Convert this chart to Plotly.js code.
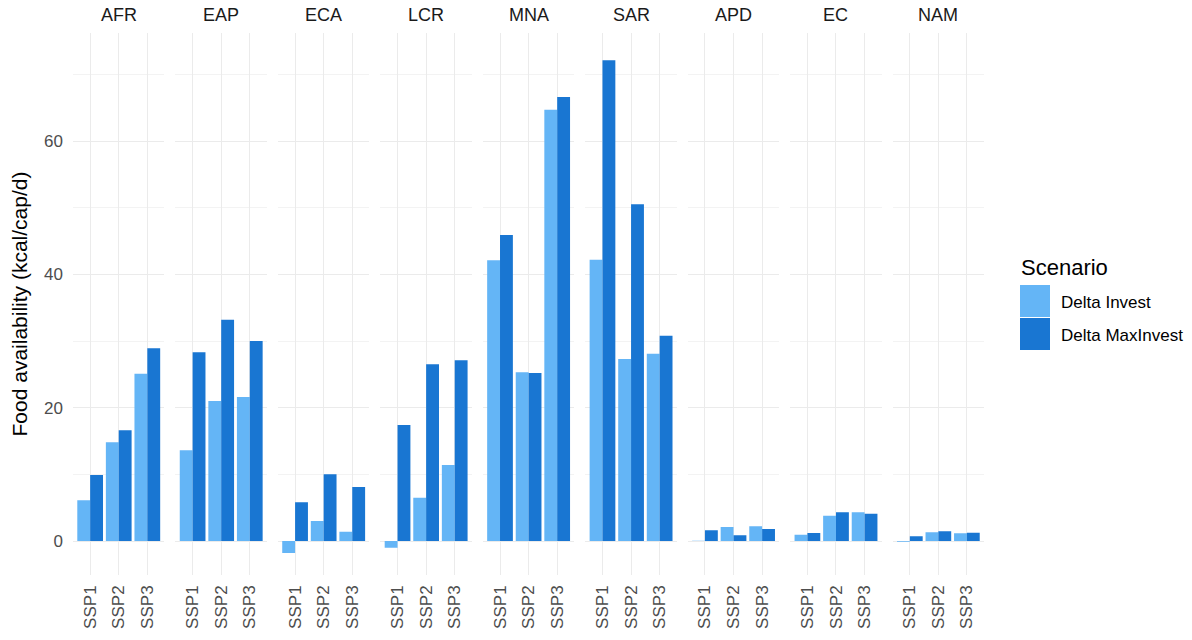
<!DOCTYPE html>
<html>
<head>
<meta charset="utf-8">
<script src="https://cdn.plot.ly/plotly-3.0.1.min.js"></script>
<style>html,body{margin:0;padding:0;background:#fff}#chart{width:1192px;height:640px}</style>
</head>
<body>
<div id="chart"></div>
<script>
const regions = ["AFR","EAP","ECA","LCR","MNA","SAR","APD","EC","NAM"];
const ssps = ["SSP1","SSP2","SSP3"];
const seriesNames = ["Delta Invest","Delta MaxInvest"];
const seriesColors = ["#64B5F6","#1976D2"];
const legendTitle = "Scenario";
// values per region: [SSP1, SSP2, SSP3]
const deltaInvest = {
  AFR: [6.1, 14.8, 25.1],
  EAP: [13.6, 21.0, 21.6],
  ECA: [-1.8, 3.0, 1.4],
  LCR: [-1.0, 6.5, 11.4],
  MNA: [42.1, 25.3, 64.7],
  SAR: [42.2, 27.3, 28.1],
  APD: [0.05, 2.1, 2.2],
  EC:  [0.95, 3.8, 4.3],
  NAM: [-0.1, 1.3, 1.15]
};
const deltaMaxInvest = {
  AFR: [9.9, 16.6, 28.9],
  EAP: [28.3, 33.2, 30.0],
  ECA: [5.8, 10.0, 8.1],
  LCR: [17.4, 26.5, 27.1],
  MNA: [45.9, 25.2, 66.6],
  SAR: [72.1, 50.5, 30.8],
  APD: [1.6, 0.85, 1.8],
  EC:  [1.2, 4.3, 4.1],
  NAM: [0.7, 1.45, 1.25]
};
const yTicks = [0, 20, 40, 60];

const W = 1192, H = 640;
const mL = 72.7, mR = 208, mT = 33, mB = 65;
const plotW = W - mL - mR;
const plotH = H - mT - mB;
const pitch = 102.5, pw = 91.5;
const px2x = p => (p - mL) / plotW;
const py2y = p => (H - mB - p) / plotH;

const traces = [];
const layout = {
  width: W, height: H,
  margin: {l: mL, r: mR, t: mT, b: mB, pad: 0},
  paper_bgcolor: "#fff", plot_bgcolor: "#fff",
  barmode: "group", bargap: 0.1, bargroupgap: 0,
  font: {family: "Liberation Sans, Arial, sans-serif", color: "#4d4d4d", size: 17},
  showlegend: false,
  yaxis: {
    range: [-5.1, 76.2],
    tickvals: yTicks, ticktext: yTicks.map(String),
    showgrid: true, gridcolor: "#ebebeb", gridwidth: 1,
    minor: {dtick: 10, tick0: 0, showgrid: true, gridcolor: "#f3f3f3", gridwidth: 1, ticks: ""},
    zeroline: false, showline: false, ticks: "",
    tickfont: {size: 17, color: "#4d4d4d"},
    ticklabelstandoff: 9,
    title: {text: "Food availability (kcal/cap/d)", font: {size: 21, color: "#000"}, standoff: 10},
    anchor: "x"
  },
  annotations: [],
  shapes: []
};

regions.forEach((reg, i) => {
  const ax = i === 0 ? "x" : "x" + (i + 1);
  const axKey = i === 0 ? "xaxis" : "xaxis" + (i + 1);
  const d0 = (i * pitch) / plotW;
  const d1 = (i * pitch + pw) / plotW;
  layout[axKey] = {
    domain: [d0, Math.min(d1, 1)],
    type: "category",
    categoryorder: "array", categoryarray: ssps,
    range: [-0.6, 2.6],
    showgrid: true, gridcolor: "#ebebeb", gridwidth: 1,
    zeroline: false, showline: false, ticks: "",
    tickangle: -90,
    tickfont: {size: 17, color: "#4d4d4d"},
    ticklabelstandoff: 6,
    anchor: "y", fixedrange: true
  };
  [deltaInvest, deltaMaxInvest].forEach((src, s) => {
    traces.push({
      type: "bar",
      x: ssps, y: src[reg],
      xaxis: ax, yaxis: "y",
      name: seriesNames[s],
      legendgroup: seriesNames[s],
      showlegend: false,
      marker: {color: seriesColors[s], line: {width: 0}},
      offsetgroup: String(s),
      hoverinfo: "x+y+name"
    });
  });
  layout.annotations.push({
    text: reg, xref: ax + " domain", x: 0.5, yref: "paper", y: 1,
    yanchor: "middle", yshift: 18, showarrow: false,
    font: {size: 18, color: "#1a1a1a"}
  });
});

// custom legend (ggplot-style large keys)
layout.annotations.push({
  text: legendTitle, xref: "paper", yref: "paper",
  x: px2x(1019), y: py2y(267), xanchor: "left", yanchor: "middle",
  showarrow: false, font: {size: 22, color: "#000"}
});
seriesNames.forEach((nm, s) => {
  const top = 285 + s * 33;
  layout.shapes.push({
    type: "rect", xref: "paper", yref: "paper",
    x0: px2x(1020), x1: px2x(1050), y0: py2y(top + 32), y1: py2y(top),
    fillcolor: seriesColors[s], line: {width: 0}
  });
  layout.annotations.push({
    text: nm, xref: "paper", yref: "paper",
    x: px2x(1059), y: py2y(top + 17), xanchor: "left", yanchor: "middle",
    showarrow: false, font: {size: 17, color: "#000"}
  });
});

Plotly.newPlot("chart", traces, layout, {displayModeBar: false, staticPlot: true});
</script>
</body>
</html>
